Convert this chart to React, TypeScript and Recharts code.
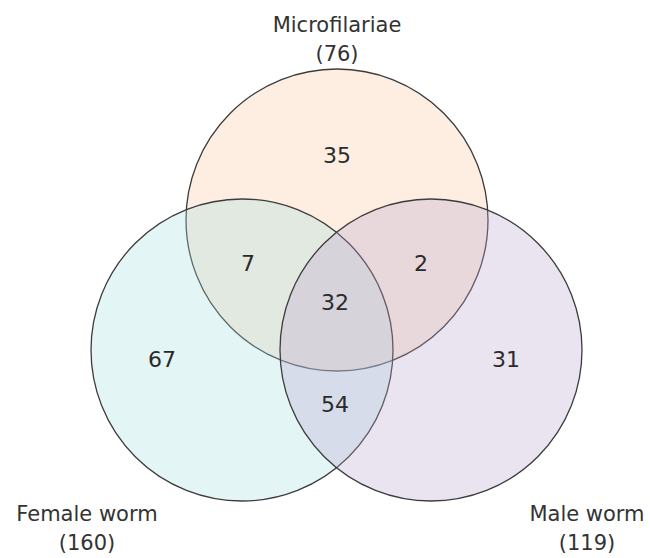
import { ScatterChart, Scatter, XAxis, YAxis } from 'recharts';

// three sets and their totals
const SET_NAMES = ['Microfilariae', 'Female worm', 'Male worm'];
const SET_TOTALS = [76, 160, 119];
const SET_FILLS = ['#f9c89b', '#a6dfe2', '#b9a3cc'];

// region counts: M only, F only, Male only, M∩F, M∩Male, F∩Male, all three
const REGION_KEYS = ['M', 'F', 'Ma', 'MF', 'MMa', 'FMa', 'MFMa'];
const REGION_COUNTS = [35, 67, 31, 7, 2, 54, 32];

// layout (plot units)
const CIRCLE_X = [337, 242, 431];
const CIRCLE_Y = [220, 350, 350];
const RADIUS = 151;
const REGION_X = [337, 162, 506, 248, 421, 335, 335];
const REGION_Y = [155, 359, 359, 263, 263, 404, 302];
const SET_LABEL_X = [337, 87, 587];
const SET_LABEL_Y = [25, 514, 514];

const W = 650;
const H = 558;
const FONT = '"DejaVu Sans", Verdana, sans-serif';

const circles = SET_NAMES.map((name, i) => ({
  name,
  x: CIRCLE_X[i],
  y: CIRCLE_Y[i],
  fill: SET_FILLS[i],
}));

const regions = REGION_KEYS.map((key, i) => ({
  key,
  x: REGION_X[i],
  y: REGION_Y[i],
  count: REGION_COUNTS[i],
}));

const setLabels = SET_NAMES.map((name, i) => ({
  name,
  x: SET_LABEL_X[i],
  y: SET_LABEL_Y[i],
  total: SET_TOTALS[i],
}));

const CircleShape = (props: any) => {
  const { cx, cy, payload } = props;
  const r = RADIUS; // plot units map 1:1 to pixels
  return (
    <circle
      cx={cx}
      cy={cy}
      r={r}
      fill={payload.fill}
      fillOpacity={0.3}
      stroke="#3c3c3c"
      strokeWidth={1.3}
    />
  );
};

const CountShape = (props: any) => {
  const { cx, cy, payload } = props;
  return (
    <text
      x={cx}
      y={cy}
      textAnchor="middle"
      dominantBaseline="central"
      fontFamily={FONT}
      fontSize={22}
      fill="#2b2b2b"
    >
      {payload.count}
    </text>
  );
};

const SetLabelShape = (props: any) => {
  const { cx, cy, payload } = props;
  return (
    <text
      x={cx}
      y={cy}
      textAnchor="middle"
      dominantBaseline="central"
      fontFamily={FONT}
      fontSize={21}
      fill="#333"
    >
      <tspan x={cx} dy={0}>{payload.name}</tspan>
      <tspan x={cx} dy={29}>({payload.total})</tspan>
    </text>
  );
};

export default function App() {
  return (
    <div style={{ position: 'absolute', left: 0, top: 0, background: '#fff' }}>
      <ScatterChart width={W} height={H} margin={{ top: 0, right: 0, bottom: 0, left: 0 }}>
        <XAxis type="number" dataKey="x" domain={[0, W]} hide />
        <YAxis type="number" dataKey="y" domain={[0, H]} reversed hide />
        <Scatter data={circles} shape={<CircleShape />} isAnimationActive={false} />
        <Scatter data={regions} shape={<CountShape />} isAnimationActive={false} />
        <Scatter data={setLabels} shape={<SetLabelShape />} isAnimationActive={false} />
      </ScatterChart>
    </div>
  );
}
